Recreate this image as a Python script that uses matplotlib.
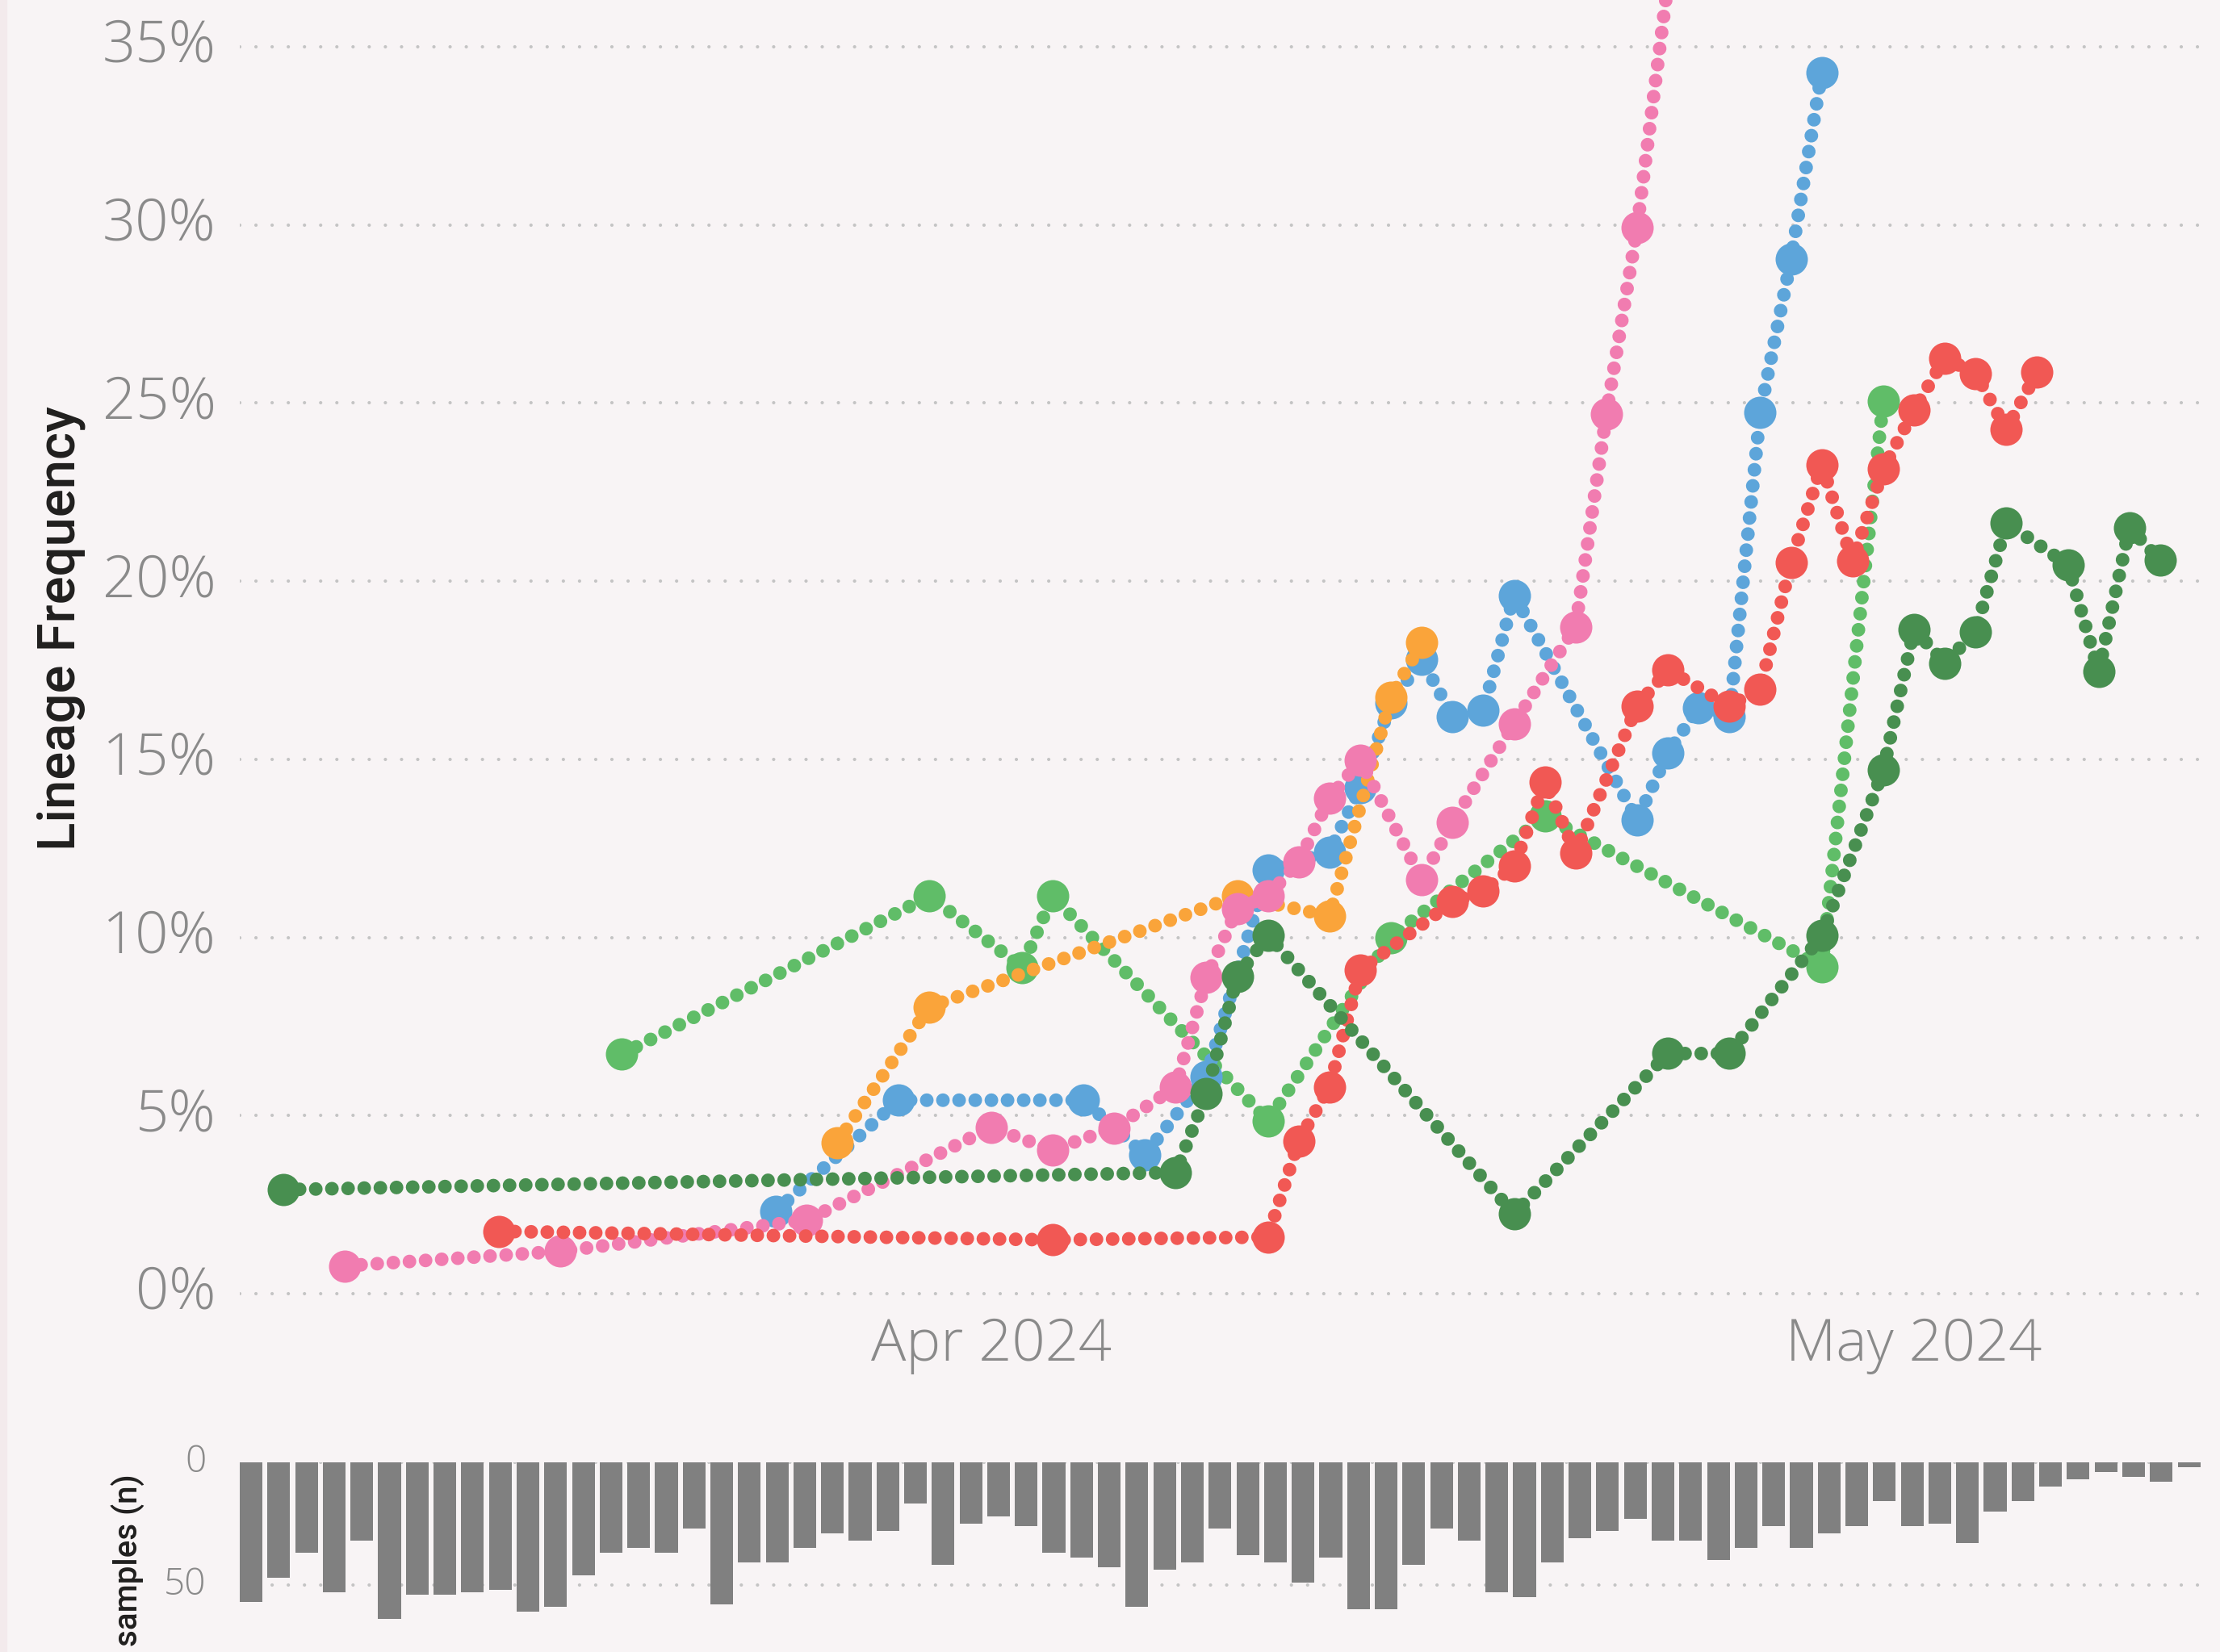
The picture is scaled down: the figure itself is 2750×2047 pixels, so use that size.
import matplotlib
matplotlib.use("Agg")
import matplotlib.dates as mdates
import matplotlib.pyplot as plt
import pandas as pd
from matplotlib.patches import Rectangle

# lineage frequencies (%) at the sampled dates
dkgreen_dates = ["2024-03-09", "2024-04-07", "2024-04-08", "2024-04-09", "2024-04-10",
                 "2024-04-18", "2024-04-23", "2024-04-25", "2024-04-28", "2024-04-30",
                 "2024-05-01", "2024-05-02", "2024-05-03", "2024-05-04", "2024-05-06",
                 "2024-05-07", "2024-05-08", "2024-05-09"]
dkgreen_freq = [2.92, 3.40, 5.61, 8.90, 10.06, 2.24, 6.74, 6.74, 10.05, 14.7,
                18.65, 17.7, 18.58, 21.63, 20.46, 17.46, 21.5, 20.58]

ltgreen_dates = ["2024-03-20", "2024-03-30", "2024-04-02", "2024-04-03", "2024-04-10",
                 "2024-04-14", "2024-04-19", "2024-04-28", "2024-04-30"]
ltgreen_freq = [6.72, 11.16, 9.16, 11.16, 4.85, 10.0, 13.4, 9.18, 25.05]

orange_dates = ["2024-03-27", "2024-03-30", "2024-04-09", "2024-04-12", "2024-04-14",
                "2024-04-15"]
orange_freq = [4.24, 8.05, 11.16, 10.6, 16.75, 18.27]

blue_dates = ["2024-03-25", "2024-03-29", "2024-04-04", "2024-04-06", "2024-04-08",
              "2024-04-10", "2024-04-12", "2024-04-13", "2024-04-14", "2024-04-15",
              "2024-04-16", "2024-04-17", "2024-04-18", "2024-04-22", "2024-04-23",
              "2024-04-24", "2024-04-25", "2024-04-26", "2024-04-27", "2024-04-28"]
blue_freq = [2.31, 5.43, 5.43, 3.9, 6.1, 11.9, 12.4, 14.2, 16.57, 17.8,
             16.2, 16.38, 19.6, 13.3, 15.18, 16.45, 16.2, 24.74, 29.03, 34.28]

pink_dates = ["2024-03-11", "2024-03-18", "2024-03-26", "2024-04-01", "2024-04-03",
              "2024-04-05", "2024-04-07", "2024-04-08", "2024-04-09", "2024-04-10",
              "2024-04-11", "2024-04-12", "2024-04-13", "2024-04-15", "2024-04-16",
              "2024-04-18", "2024-04-20", "2024-04-21", "2024-04-22", "2024-04-23"]
pink_freq = [0.78, 1.19, 2.06, 4.66, 4.04, 4.65, 5.8, 8.87, 10.8, 11.17,
             12.12, 13.9, 14.97, 11.62, 13.23, 16.0, 18.72, 24.69, 29.93, 36.8]

red_dates = ["2024-03-16", "2024-04-03", "2024-04-10", "2024-04-11", "2024-04-12",
             "2024-04-13", "2024-04-16", "2024-04-17", "2024-04-18", "2024-04-19",
             "2024-04-20", "2024-04-22", "2024-04-23", "2024-04-25", "2024-04-26",
             "2024-04-27", "2024-04-28", "2024-04-29", "2024-04-30", "2024-05-01",
             "2024-05-02", "2024-05-03", "2024-05-04", "2024-05-05"]
red_freq = [1.75, 1.51, 1.59, 4.29, 5.8, 9.08, 11.0, 11.3, 12.0, 14.36,
            12.37, 16.5, 17.5, 16.5, 16.97, 20.52, 23.27, 20.56, 23.15, 24.8,
            26.26, 25.83, 24.26, 25.86]

# daily sample counts (bottom panel)
samples = [57, 47, 37, 53, 32, 64, 54, 54, 53, 52, 61, 59, 46, 37, 35, 37, 27, 58,
           41, 41, 35, 29, 32, 28, 17, 42, 25, 22, 26, 37, 39, 43, 59, 44, 41, 27,
           38, 41, 49, 39, 60, 60, 42, 27, 32, 53, 55, 41, 31, 28, 23, 32, 32, 40,
           35, 26, 35, 29, 26, 16, 26, 25, 33, 20, 16, 10, 7, 4, 6, 8, 2]

x_ticks = ["2024-04-01", "2024-05-01"]
x_tick_labels = ["Apr 2024", "May 2024"]
y_ticks = [0, 5, 10, 15, 20, 25, 30, 35]

series = [
    (ltgreen_dates, ltgreen_freq, "#60BD68"),
    (blue_dates, blue_freq, "#5DA5DA"),
    (orange_dates, orange_freq, "#FAA43A"),
    (pink_dates, pink_freq, "#F17CB0"),
    (red_dates, red_freq, "#F15854"),
    (dkgreen_dates, dkgreen_freq, "#488F50"),
]

BG = "#f8f4f5"
TICK_C = "#8a8a8a"
GRID_C = "#c4c4c4"
W, H = 2750, 2047

fig = plt.figure(figsize=(W / 100, H / 100), dpi=100, facecolor=BG)
fig.patches.append(Rectangle((0, 0), 8 / W, 1, transform=fig.transFigure,
                             color="#f3eaec", zorder=0))

left, right = 297 / W, 2727 / W
ax = fig.add_axes([left, (H - 1612) / H, right - left, 1612 / H])
ax.set_facecolor("none")

dot_w = 12.2  # points
for i, (dates, freq, col) in enumerate(series):
    x = mdates.date2num(pd.to_datetime(dates))
    ax.plot(x, freq, color=col, lw=dot_w, linestyle=(0, (0.001, 1.18)),
            dash_capstyle="round", zorder=3 + i)
    ax.plot(x, freq, "o", color=col, ms=28.8, mew=0, zorder=3 + i)

apr1 = mdates.date2num(pd.Timestamp("2024-04-01"))
ax.set_xlim(apr1 - 24.42, apr1 + 39.34)
ax.set_ylim(-0.204, 36.31)

ax.set_yticks(y_ticks)
ax.set_yticklabels([f"{v}%" for v in y_ticks])
ax.set_xticks(mdates.date2num(pd.to_datetime(x_ticks)))
ax.set_xticklabels(x_tick_labels)
ax.tick_params(length=0, colors=TICK_C, labelsize=52)
ax.tick_params(axis="y", pad=21)
ax.tick_params(axis="x", pad=14)
for lab in ax.get_xticklabels() + ax.get_yticklabels():
    lab.set_family("Open Sans")
    lab.set_fontweight("light")
for lab in ax.get_yticklabels():
    lab.set_verticalalignment("center")
ax.grid(axis="y", color=GRID_C, lw=3.0, linestyle=(0, (0.01, 4.8)),
        dash_capstyle="round")
ax.grid(axis="x", visible=False)
ax.set_axisbelow(True)
for s in ax.spines.values():
    s.set_visible(False)

fig.text(75 / W, 1 - 779 / H, "Lineage Frequency", rotation=90, ha="center",
         va="center", fontsize=47, color="#201f1e", family="Roboto",
         fontweight="medium")

# samples panel
ax2 = fig.add_axes([left, 0, right - left, (H - 1811.7) / H])
ax2.set_facecolor("none")
ax2.bar(range(len(samples)), samples, width=0.82, color="#808080", zorder=3)
ax2.set_xlim(-0.41, 70.45)
ax2.set_ylim(77.4, 0)
ax2.set_yticks([0, 50])
ax2.set_xticks([])
ax2.tick_params(length=0, colors=TICK_C, labelsize=33, pad=30)
for lab in ax2.get_yticklabels():
    lab.set_family("Open Sans")
    lab.set_fontweight("light")
    lab.set_verticalalignment("center")
ax2.grid(axis="y", color=GRID_C, lw=3.0, linestyle=(0, (0.01, 4.8)),
         dash_capstyle="round")
ax2.set_axisbelow(True)
for s in ax2.spines.values():
    s.set_visible(False)

fig.text(158 / W, 1 - 1933 / H, "samples (n)", rotation=90, ha="center",
         va="center", fontsize=29, color="#201f1e", family="Roboto",
         fontweight="medium")

fig.savefig("out.png", dpi=100, facecolor=BG)
